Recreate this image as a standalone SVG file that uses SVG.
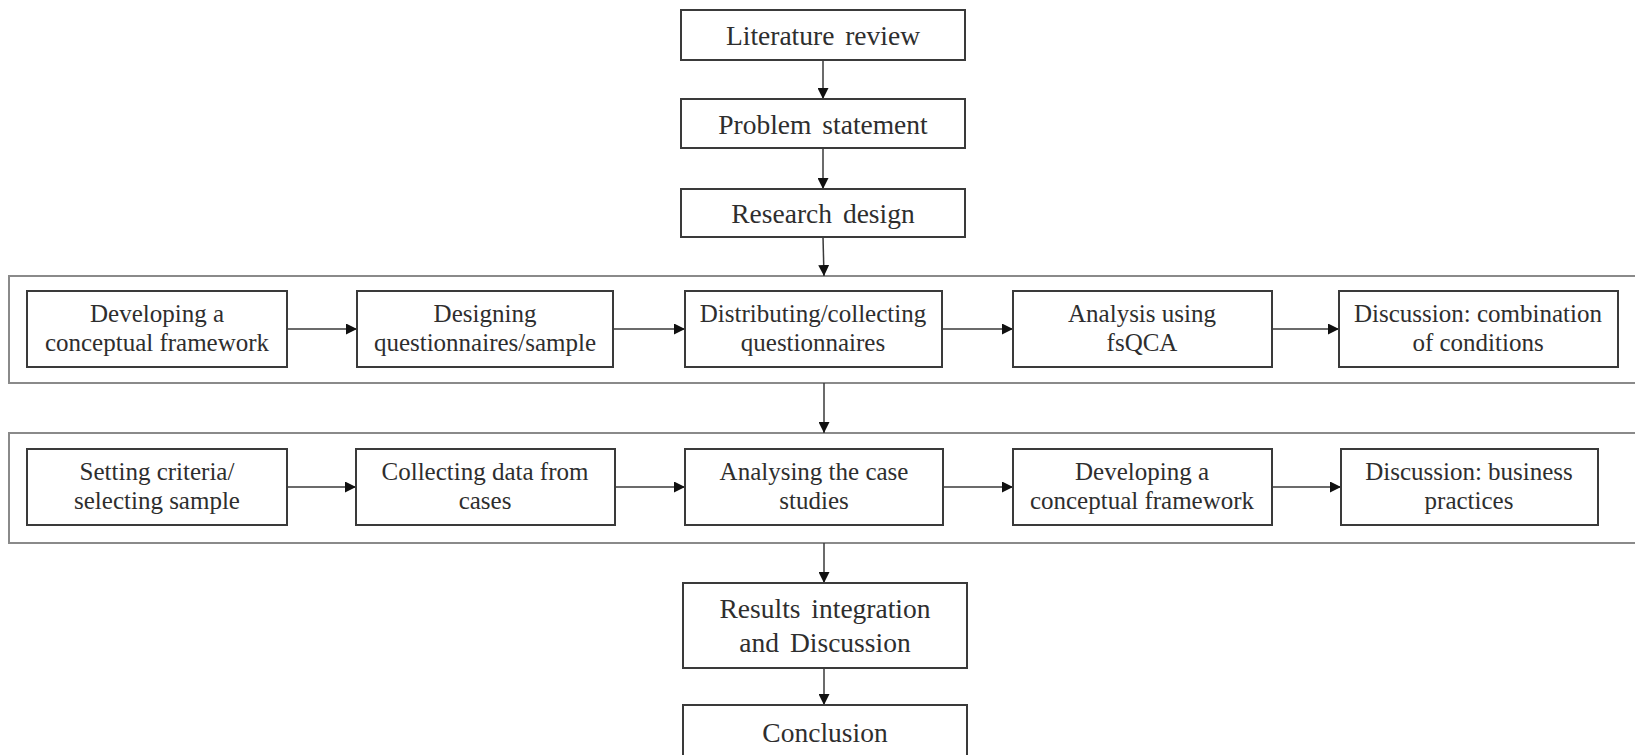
<svg xmlns="http://www.w3.org/2000/svg" width="1635" height="755" viewBox="0 0 1635 755">
  <style>
    .box { fill: #ffffff; stroke: #3a3a3a; stroke-width: 2; }
    .band { fill: none; stroke: #8a8a8a; stroke-width: 2; }
    .main { font-family: "Liberation Serif", "Times New Roman", serif; font-size: 27.5px; fill: #2e2e2e; text-anchor: middle; word-spacing: 4px; }
    .sub { font-family: "Liberation Serif", "Times New Roman", serif; font-size: 25px; fill: #2e2e2e; text-anchor: middle; }
    .link { stroke: #3a3a3a; stroke-width: 1.5; fill: none; marker-end: url(#arrow); }
  </style>
  <defs>
    <marker id="arrow" viewBox="0 0 10 10" refX="10" refY="5" markerWidth="11" markerHeight="11" markerUnits="userSpaceOnUse" orient="auto">
      <path d="M0,0 L10,5 L0,10 Z" fill="#111"/>
    </marker>
  </defs>
  <rect width="1635" height="755" fill="#ffffff"/>

  <!-- bands holding the two parallel strands -->
  <g id="band-quantitative"><rect class="band" x="9" y="276" width="1640" height="107"/></g>
  <g id="band-qualitative"><rect class="band" x="9" y="433" width="1640" height="110"/></g>

  <g id="connectors">
    <line class="link" x1="823" y1="60" x2="823" y2="99"/>
    <line class="link" x1="823" y1="148" x2="823" y2="189"/>
    <line class="link" x1="823" y1="237" x2="824" y2="276"/>
    <line class="link" x1="824" y1="383" x2="824" y2="433"/>
    <line class="link" x1="824" y1="543" x2="824" y2="583"/>
    <line class="link" x1="824" y1="668" x2="824" y2="705"/>
    <!-- first strand -->
    <line class="link" x1="287" y1="329" x2="357" y2="329"/>
    <line class="link" x1="613" y1="329" x2="685" y2="329"/>
    <line class="link" x1="942" y1="329" x2="1013" y2="329"/>
    <line class="link" x1="1272" y1="329" x2="1339" y2="329"/>
    <!-- second strand -->
    <line class="link" x1="287" y1="487" x2="356" y2="487"/>
    <line class="link" x1="615" y1="487" x2="685" y2="487"/>
    <line class="link" x1="943" y1="487" x2="1013" y2="487"/>
    <line class="link" x1="1272" y1="487" x2="1341" y2="487"/>
  </g>

  <g id="literature-review">
    <rect class="box" x="681" y="10" width="284" height="50"/>
    <text class="main" x="823" y="45">Literature review</text>
  </g>
  <g id="problem-statement">
    <rect class="box" x="681" y="99" width="284" height="49"/>
    <text class="main" x="823" y="134">Problem statement</text>
  </g>
  <g id="research-design">
    <rect class="box" x="681" y="189" width="284" height="48"/>
    <text class="main" x="823" y="223">Research design</text>
  </g>

  <g id="q1">
    <rect class="box" x="27" y="291" width="260" height="76"/>
    <text class="sub" x="157" y="322">Developing a</text>
    <text class="sub" x="157" y="351">conceptual framework</text>
  </g>
  <g id="q2">
    <rect class="box" x="357" y="291" width="256" height="76"/>
    <text class="sub" x="485" y="322">Designing</text>
    <text class="sub" x="485" y="351">questionnaires/sample</text>
  </g>
  <g id="q3">
    <rect class="box" x="685" y="291" width="257" height="76"/>
    <text class="sub" x="813" y="322">Distributing/collecting</text>
    <text class="sub" x="813" y="351">questionnaires</text>
  </g>
  <g id="q4">
    <rect class="box" x="1013" y="291" width="259" height="76"/>
    <text class="sub" x="1142" y="322">Analysis using</text>
    <text class="sub" x="1142" y="351">fsQCA</text>
  </g>
  <g id="q5">
    <rect class="box" x="1339" y="291" width="279" height="76"/>
    <text class="sub" x="1478" y="322">Discussion: combination</text>
    <text class="sub" x="1478" y="351">of conditions</text>
  </g>

  <g id="c1">
    <rect class="box" x="27" y="449" width="260" height="76"/>
    <text class="sub" x="157" y="480">Setting criteria/</text>
    <text class="sub" x="157" y="509">selecting sample</text>
  </g>
  <g id="c2">
    <rect class="box" x="356" y="449" width="259" height="76"/>
    <text class="sub" x="485" y="480">Collecting data from</text>
    <text class="sub" x="485" y="509">cases</text>
  </g>
  <g id="c3">
    <rect class="box" x="685" y="449" width="258" height="76"/>
    <text class="sub" x="814" y="480">Analysing the case</text>
    <text class="sub" x="814" y="509">studies</text>
  </g>
  <g id="c4">
    <rect class="box" x="1013" y="449" width="259" height="76"/>
    <text class="sub" x="1142" y="480">Developing a</text>
    <text class="sub" x="1142" y="509">conceptual framework</text>
  </g>
  <g id="c5">
    <rect class="box" x="1341" y="449" width="257" height="76"/>
    <text class="sub" x="1469" y="480">Discussion: business</text>
    <text class="sub" x="1469" y="509">practices</text>
  </g>

  <g id="results-integration">
    <rect class="box" x="683" y="583" width="284" height="85"/>
    <text class="main" x="825" y="618">Results integration</text>
    <text class="main" x="825" y="652">and Discussion</text>
  </g>
  <g id="conclusion">
    <rect class="box" x="683" y="705" width="284" height="54"/>
    <text class="main" x="825" y="742">Conclusion</text>
  </g>
</svg>
